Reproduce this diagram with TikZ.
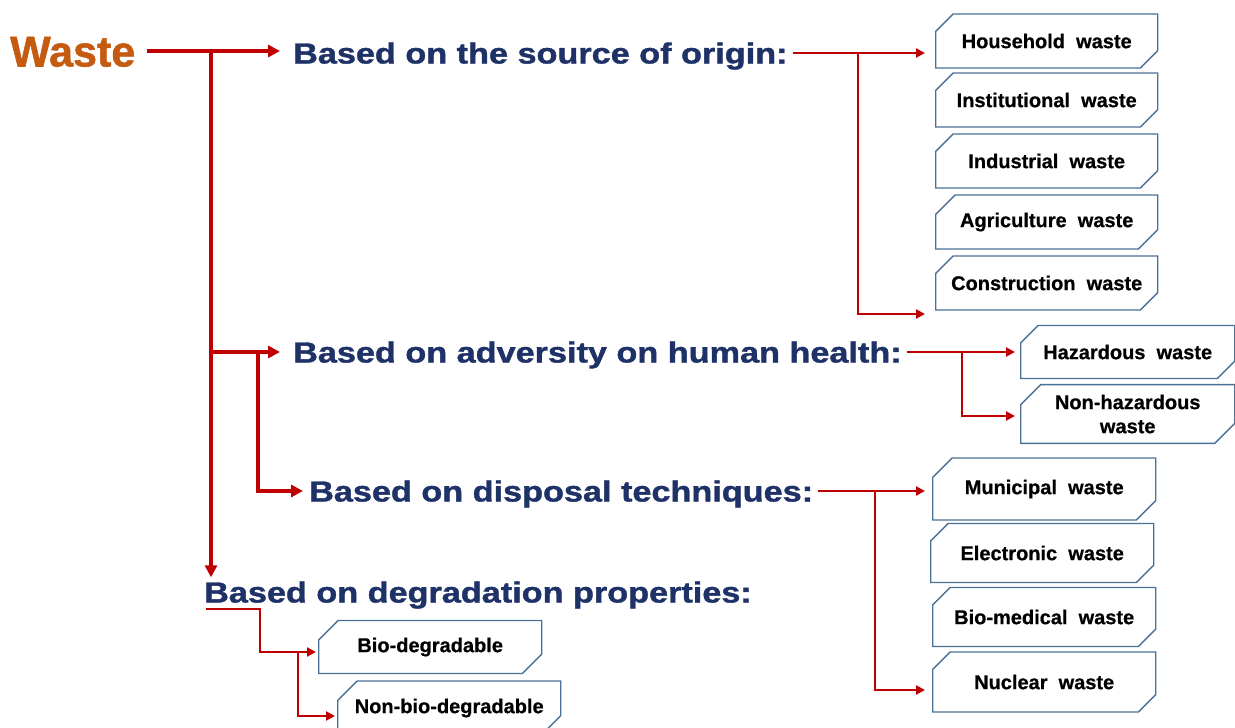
\documentclass[tikz,border=0pt]{standalone}
\usepackage{fontspec}
\setmainfont{Liberation Sans}
\newfontfamily\headfont{Liberation Sans}[BoldFeatures={FakeBold=1.2}]
\newfontfamily\boxfont{Liberation Sans}[BoldFeatures={FakeBold=0.6}]
\usetikzlibrary{arrows.meta,shapes.misc,calc}
\definecolor{wred}{HTML}{C00000}
\definecolor{wnavy}{HTML}{1F3268}
\definecolor{worange}{HTML}{C55A11}
\definecolor{boxc}{HTML}{4A7096}
\newcommand{\hd}[1]{\scalebox{1.18}[1]{#1}}
\begin{document}
\begin{tikzpicture}[x=1pt,y=-1pt,
  head/.style={font=\fontsize{29}{34}\headfont\bfseries, text=wnavy, inner xsep=2pt, inner ysep=4pt, text height=21pt, text depth=0pt, anchor=west},
  wbox/.style={chamfered rectangle, chamfered rectangle corners={north west,south east}, chamfered rectangle xsep=10pt, chamfered rectangle ysep=10pt, draw=boxc, line width=1.4pt, fill=white, minimum width=222pt, minimum height=54pt, anchor=west, font=\fontsize{20}{24}\boxfont\bfseries, inner sep=0pt, align=center, text=black},
  thk/.style={draw=wred, line width=3.2pt},
  thkarr/.style={thk, -{Triangle[length=12pt,width=12pt]}},
  thn/.style={draw=wred, line width=2.3pt},
  thnarr/.style={thn, -{Triangle[length=9pt,width=9pt]}}
]
\useasboundingbox (0,0) rectangle (1235,728);
\fill[white] (0,0) rectangle (1235,728);

% root and headings
\node[font=\fontsize{43}{48}\headfont\bfseries, text=worange, inner xsep=0pt, inner ysep=0pt, text height=31pt, text depth=0pt, anchor=west] (waste) at (10,51) {Waste};
\node[head] (h1) at (291,53) {\hd{Based on the source of origin:}};
\node[head] (h2) at (291,352) {\hd{Based on adversity on human health:}};
\node[head] (h3) at (307,491) {\hd{Based on disposal techniques:}};
\node[head] (h4) at (202,592) {\hd{Based on degradation properties:}};

% boxes: source of origin
\node[wbox] (hb1) at (935,41) {Household\ \ waste};
\node[wbox] (hb2) at (935,100) {Institutional\ \ waste};
\node[wbox] (hb3) at (935,161) {Industrial\ \ waste};
\node[wbox] (hb4) at (935,222) {Agriculture\ \ waste};
\node[wbox] (hb5) at (935,283) {Construction\ \ waste};

% boxes: adversity
\node[wbox, minimum width=214pt, minimum height=53pt] (hz) at (1020,352) {Hazardous\ \ waste};
\node[wbox, minimum width=214pt, minimum height=53pt] (nh) at (1020,414) {Non-hazardous\\waste};

% boxes: disposal
\node[wbox, minimum width=223pt, minimum height=62pt] (mu) at (932,489) {Municipal\ \ waste};
\node[wbox, minimum width=223pt, minimum height=59pt] (el) at (930,553) {Electronic\ \ waste};
\node[wbox, minimum width=223pt, minimum height=59pt] (bm) at (932,617) {Bio-medical\ \ waste};
\node[wbox, minimum width=223pt, minimum height=60pt] (nu) at (932,682) {Nuclear\ \ waste};

% boxes: degradation
\node[wbox, minimum width=223pt, minimum height=53pt] (bio) at (318,647) {Bio-degradable};
\node[wbox, minimum width=223pt, minimum height=54pt] (nb) at (337,708) {Non-bio-degradable};

% junction coordinates
\coordinate (t1) at (211,52);
\coordinate (t2) at (258,352);
\coordinate (j1) at (858,53);
\coordinate (j2) at (962,352);
\coordinate (j3) at (875,491);
\coordinate (k1) at (260,652);
\coordinate (k2) at (298,652);

% main connectors
\draw[thkarr, shorten <=12pt, shorten >=11pt] (waste.east) -- (waste.east -| h1.west);
\draw[thkarr] (t1) -- (t1 |- h4.north);
\draw[thkarr, shorten >=11pt] (t1 |- h2.west) -- (h2.west);
\draw[thkarr, shorten >=4pt] (t2) |- (h3.west);

% source of origin
\draw[thnarr, shorten <=3pt, shorten >=10pt] (h1.east) -- (h1.east -| hb1.west);
\draw[thnarr] (j1) |- ([xshift=-10pt,yshift=-31pt]hb5.west);

% adversity
\draw[thnarr, shorten <=3pt, shorten >=5pt] (h2.east) -- (h2.east -| hz.west);
\draw[thnarr] (j2) |- ([xshift=-5pt,yshift=-2pt]nh.west);

% disposal
\draw[thnarr, shorten <=3pt, shorten >=7pt] (h3.east) -- (h3.east -| mu.west);
\draw[thnarr] (j3) |- ([xshift=-7pt,yshift=-8pt]nu.west);

% degradation
\draw[thnarr, shorten >=2pt] ([xshift=4pt,yshift=-2pt]h4.south west) -| (k1) -- (k1 -| bio.west);
\draw[thnarr] (k2) |- ([xshift=-2pt,yshift=-8pt]nb.west);
\end{tikzpicture}
\end{document}
